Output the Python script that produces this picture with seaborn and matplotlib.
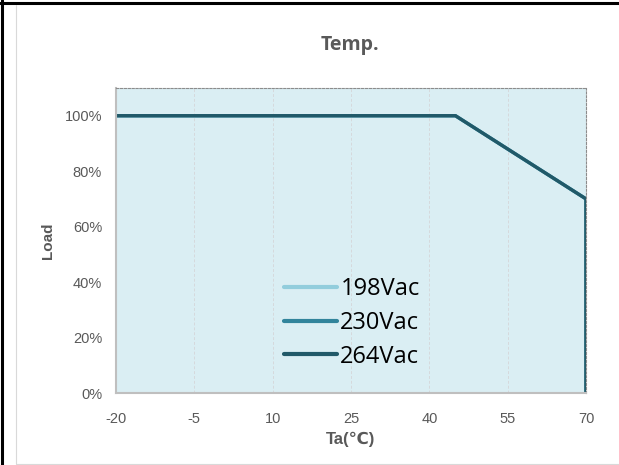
import matplotlib
matplotlib.use("Agg")
import matplotlib.pyplot as plt
import seaborn as sns
import pandas as pd
from matplotlib.lines import Line2D
from matplotlib.ticker import FuncFormatter

# Data
series_names = ["198Vac", "230Vac", "264Vac"]
temp_points = [-20, 45, 70, 70]
load_points = [1.0, 1.0, 0.7, 0.0]
x_ticks = [-20, -5, 10, 25, 40, 55, 70]
y_ticks = [0, 0.2, 0.4, 0.6, 0.8, 1.0]
colors = ["#92CDDC", "#31849B", "#215968"]

rows = []
for s in series_names:
    for i, (t, l) in enumerate(zip(temp_points, load_points)):
        rows.append({"Ta": t, "Load": l, "series": s, "order": i})
df = pd.DataFrame(rows)

sns.set_theme(style="white")
plt.rcParams["font.family"] = ["Liberation Sans", "DejaVu Sans"]
plt.rcParams["axes.unicode_minus"] = False

fig = plt.figure(figsize=(6.19, 4.65), dpi=100)
W, H = 619, 465
ax = fig.add_axes([116 / W, (H - 393) / H, (586 - 116) / W, (393 - 88) / H])
ax.set_facecolor("#DAEEF3")

sns.lineplot(data=df, x="Ta", y="Load", hue="series", palette=colors,
             hue_order=series_names, sort=False, estimator=None,
             linewidth=2.4, ax=ax, legend=False)

ax.set_xlim(-20, 70)
ax.set_ylim(0, 1.1)
ax.set_xticks(x_ticks)
ax.set_yticks(y_ticks)
ax.yaxis.set_major_formatter(FuncFormatter(lambda v, p: f"{v*100:.0f}%"))
ax.tick_params(axis="both", labelsize=10.5, colors="#595959", length=3,
               width=0.8, direction="in")
ax.tick_params(axis="x", direction="out", length=0, pad=14)
ax.tick_params(axis="y", color="#D0D0D0", pad=10)
for lab in ax.get_xticklabels() + ax.get_yticklabels():
    lab.set_color("#595959")

for x in x_ticks[1:-1]:
    ax.axvline(x, color="#D5D9DC", linewidth=0.7, linestyle=(0, (3, 2)), zorder=0)

for side in ["left", "bottom"]:
    ax.spines[side].set_color("#BFBFBF")
    ax.spines[side].set_linewidth(1.5)
for side in ["top", "right"]:
    ax.spines[side].set_color("#8C8C8C")
    ax.spines[side].set_linewidth(0.8)
    ax.spines[side].set_linestyle((0, (2, 1.5)))

ax.set_xlabel("Ta(℃)", fontsize=12, fontweight="bold", color="#595959",
              labelpad=4, family=["Liberation Sans", "DejaVu Sans"])
ax.set_ylabel("Load", fontsize=11, fontweight="bold", color="#595959", labelpad=7)
fig.text(350 / W, 1 - 45 / H, "Temp.", ha="center", va="center",
         fontsize=14, fontweight="bold", color="#595959", family="Open Sans")

handles = [Line2D([0], [0], color=c, linewidth=3) for c in colors]
leg = ax.legend(handles, series_names, loc="lower left",
                bbox_to_anchor=(0.313, 0.01), frameon=False,
                handlelength=2.25, handletextpad=0.12, labelspacing=0.42,
                prop={"family": "Open Sans", "size": 17})
for t in leg.get_texts():
    t.set_color("black")

# Outer frame
fig.add_artist(Line2D([0, 1], [1 - 3 / H, 1 - 3 / H], color="black", linewidth=2.2,
                      transform=fig.transFigure))
fig.add_artist(Line2D([2 / W, 2 / W], [0, 1], color="black", linewidth=2.2,
                      transform=fig.transFigure))
fig.add_artist(Line2D([16 / W, 16 / W], [1 / H, 1 - 5 / H], color="#D9D9D9",
                      linewidth=0.8, transform=fig.transFigure))
fig.add_artist(Line2D([16 / W, 1], [1.5 / H, 1.5 / H], color="#D9D9D9",
                      linewidth=0.8, transform=fig.transFigure))

fig.savefig("out.png", dpi=100)
